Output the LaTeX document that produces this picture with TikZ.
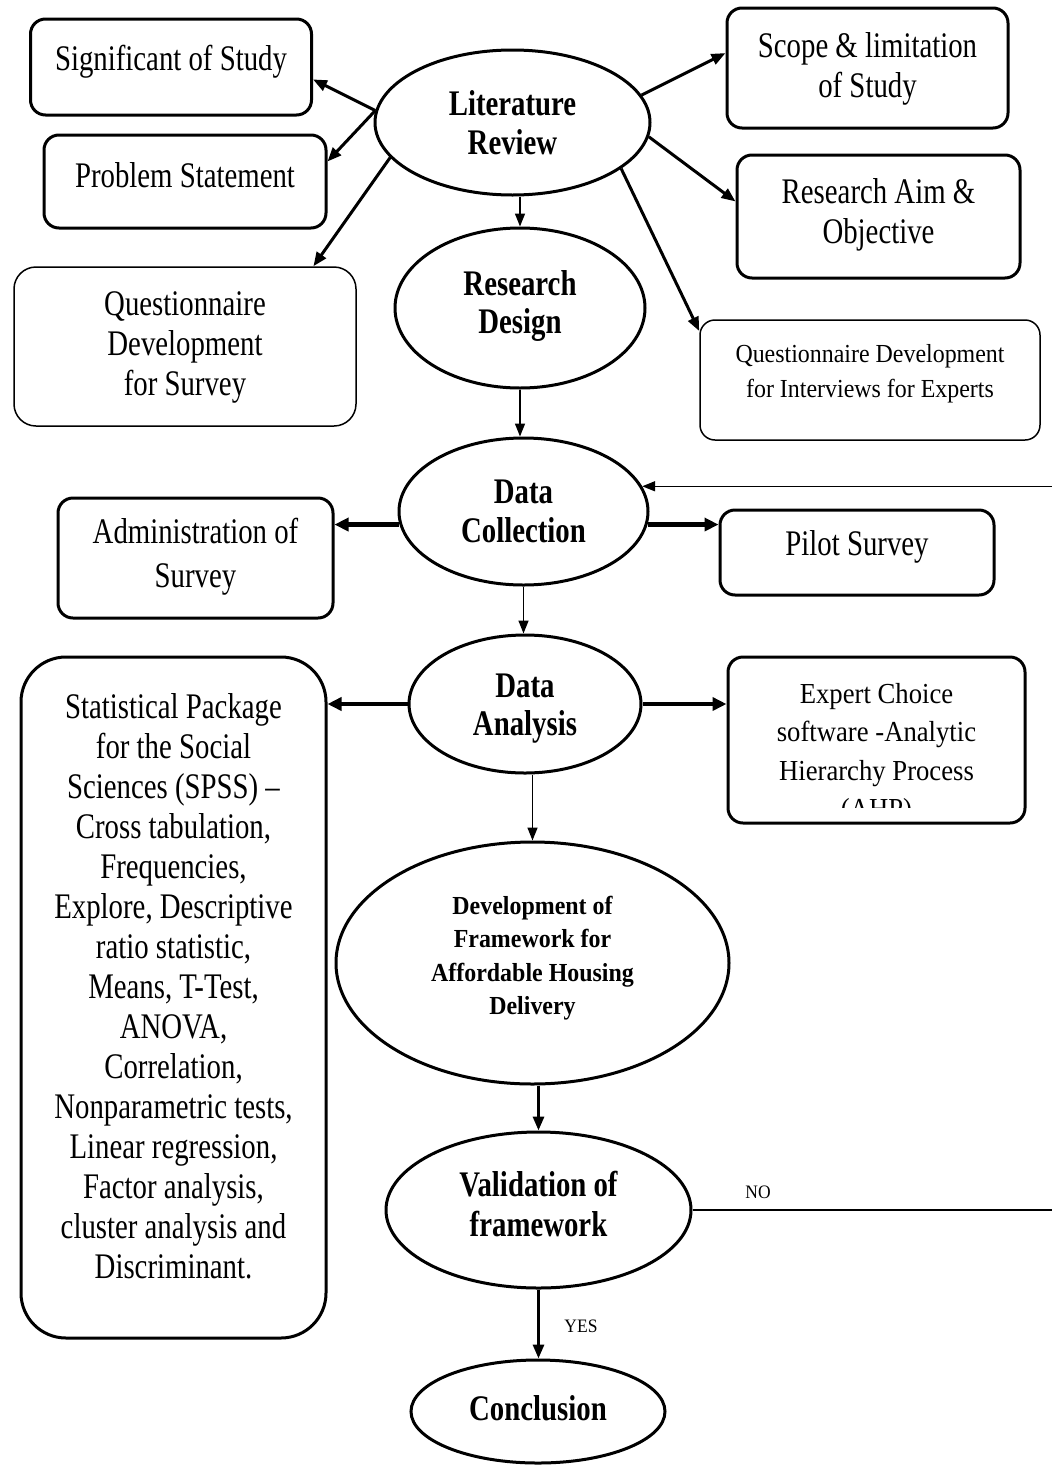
\documentclass[tikz,border=0pt]{standalone}
\usepackage{fontspec}
\setmainfont{Liberation Serif}[FakeStretch=0.8]
\newfontfamily\nfont{Liberation Serif}[FakeStretch=0.92]
\usetikzlibrary{arrows.meta,shapes.geometric}
\begin{document}
\begin{tikzpicture}[x=1pt,y=-1pt,
  box/.style={draw, rounded corners=15pt, line width=3pt, inner sep=0pt, align=center,
    font=\fontsize{36}{40}\selectfont, text height=26pt},
  tbox/.style={box, line width=1.5pt, rounded corners=22pt},
  ell/.style={draw, ellipse, line width=3pt, inner sep=0pt, align=center,
    font=\fontsize{36}{39}\selectfont\bfseries, text height=26pt},
  arr/.style={-{Triangle[length=14pt,width=11pt]}, line width=3pt},
  harr/.style={-{Triangle[length=14pt,width=13pt]}, line width=4.5pt},
  tarr/.style={-{Triangle[length=13pt,width=10pt]}, line width=1.5pt},
  lbl/.style={font=\nfont\fontsize{19}{19}\selectfont, inner sep=0pt}
]
\clip (0,0) rectangle (1052,1467);
\fill[white] (0,0) rectangle (1052,1467);

% ellipses
\node[ell, minimum width=275pt, minimum height=145pt, text height=65pt, text depth=2pt] (lit) at (512.5,122.5) {Literature\\Review};
\node[ell, minimum width=250pt, minimum height=160pt, text height=64pt, text depth=14pt, font=\fontsize{36}{38}\selectfont\bfseries] (des) at (520,308) {Research\\Design};
\node[ell, minimum width=249pt, minimum height=147pt, text height=65pt, text depth=4pt] (dc) at (523.5,511.5) {Data\\Collection};
\node[ell, minimum width=232pt, minimum height=138pt, text height=64pt, text depth=2pt, font=\fontsize{36}{38}\selectfont\bfseries] (da) at (525,704) {Data\\Analysis};
\node[ell, minimum width=393pt, minimum height=242pt, text height=118.5pt, text depth=15.5pt, font=\nfont\fontsize{26}{33.5}\selectfont\bfseries] (dev) at (532.5,963) {Development of\\Framework for\\Affordable Housing\\Delivery};
\node[ell, minimum width=305pt, minimum height=156pt, text height=66pt, text depth=14pt, font=\fontsize{36}{40}\selectfont\bfseries] (val) at (538.5,1210) {Validation of\\framework};
\node[ell, minimum width=254pt, minimum height=103pt, text depth=9pt] (con) at (538,1411.5) {Conclusion};

% boxes
\node[box, minimum width=281pt, minimum height=96pt, text depth=20pt] (sig) at (171,67) {Significant of Study};
\node[box, minimum width=282pt, minimum height=93pt, text depth=15pt] (prob) at (185,181.5) {Problem Statement};
\node[tbox, minimum width=342pt, minimum height=159pt, text height=106pt, text depth=9pt] (qs) at (185,346.5) {Questionnaire\\Development\\for Survey};
\node[box, minimum width=281pt, minimum height=120pt, text height=66pt, text depth=8pt] (scope) at (867.5,68) {Scope \& limitation\\of Study};
\node[box, minimum width=283pt, minimum height=123pt, text height=66pt, text depth=13pt] (aim) at (878.5,216.5) {Research Aim \&\\Objective};
\node[tbox, rounded corners=15pt, minimum width=340pt, minimum height=120pt, text height=54pt, text depth=20pt, font=\nfont\fontsize{26}{35}\selectfont] (qi) at (870,380) {Questionnaire Development\\for Interviews for Experts};
\node[box, minimum width=275pt, minimum height=120pt, text height=70pt, text depth=12pt, font=\fontsize{36}{44}\selectfont] (adm) at (195.5,558) {Administration of\\Survey};
\node[box, minimum width=274pt, minimum height=85pt, text depth=21pt] (pil) at (857,552.5) {Pilot Survey};
\node[box, rounded corners=45pt, minimum width=305pt, minimum height=681pt, text height=586pt, text depth=25pt] (spss) at (173.5,997.5) {Statistical Package\\for the Social\\Sciences (SPSS) --\\Cross tabulation,\\Frequencies,\\Explore, Descriptive\\ratio statistic,\\Means, T-Test,\\ANOVA,\\Correlation,\\Nonparametric tests,\\Linear regression,\\Factor analysis,\\cluster analysis and\\Discriminant.};
\node[box, minimum width=297pt, minimum height=166pt] (exp) at (876.5,740) {};
\begin{scope}
\clip (728,640) rectangle (1025,807);
\node[align=center, inner sep=0pt, text height=135.5pt, text depth=-21.5pt, font=\nfont\fontsize{29}{38.5}\selectfont] (expt) at (876.5,751) {Expert Choice\\software -Analytic\\Hierarchy Process\\(AHP)};
\end{scope}

% connectors
\draw[arr] (lit.175) -- (sig.-5);
\draw[arr] (lit.175) -- (prob.8);
\draw[arr] (lit.196) -- (qs.32);
\draw[arr] (lit.12) -- (scope.174);
\draw[arr] (lit.-6) -- (aim.174);
\draw[arr] (lit.-23) -- (qi.164);
\draw[tarr] (lit.south -| des.north) -- (des.north);
\draw[tarr] (des.south) -- (des.south |- dc.north);
\draw[harr] (dc.186) -- (dc.186 -| adm.east);
\draw[harr] (dc.-6) -- (dc.-6 -| pil.west);
\draw[tarr] (dc.south) -- (dc.south |- da.north);
\draw[harr] (da.west) -- (da.west -| spss.east);
\draw[harr] (da.east) -- (da.east -| exp.west);
\draw[tarr] (dev.north |- da.south) -- (dev.north);
\draw[arr] (dev.south -| val.north) -- (val.north);
\draw[arr] (val.south) -- (val.south |- con.north);
\coordinate (loop) at (1070,1210);
\draw[tarr] (val.east) -- (loop) |- (dc.12);
\node[lbl] (no) at (758,1192) {NO};
\node[lbl] (yes) at (581,1326) {YES};
\end{tikzpicture}
\end{document}
